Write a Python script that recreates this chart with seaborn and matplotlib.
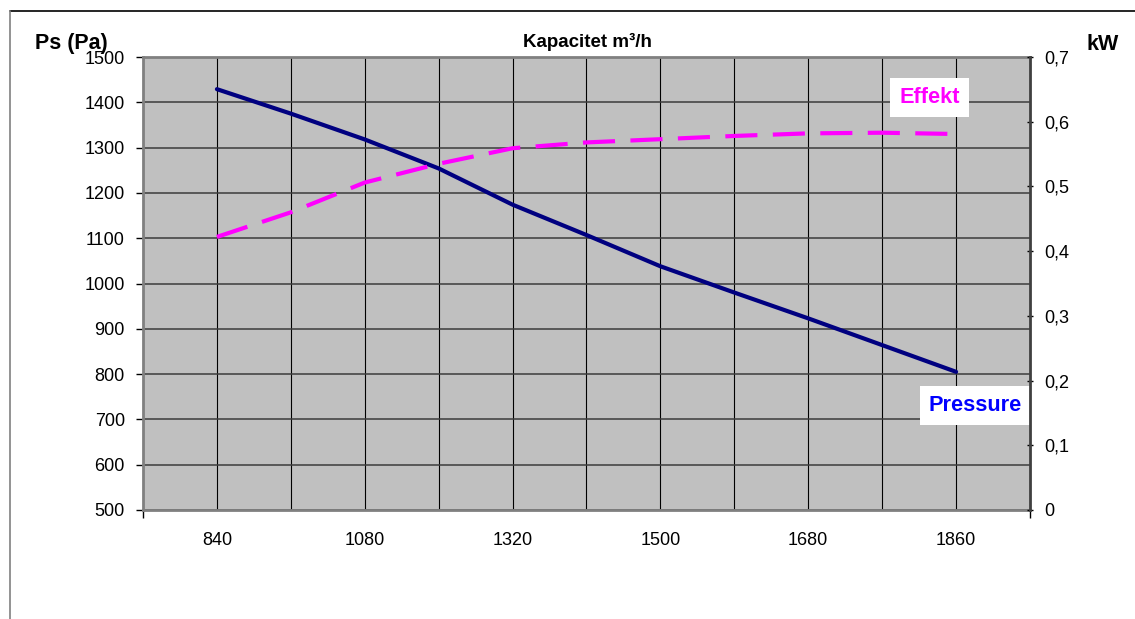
import matplotlib
matplotlib.use("Agg")
import matplotlib.pyplot as plt
from matplotlib.lines import Line2D
from matplotlib.ticker import FixedLocator
import numpy as np
import pandas as pd
import seaborn as sns

# capacity categories (m3/h), only every other one is labelled
capacity = [840, 960, 1080, 1200, 1320, 1410, 1500, 1590, 1680, 1770, 1860]
pressure = [1429, 1375, 1318, 1254, 1174, 1107, 1038, 980, 923, 864, 805]
effekt = [0.422, 0.460, 0.506, 0.535, 0.559, 0.568, 0.573, 0.578, 0.582, 0.583, 0.581]
p_ticks = list(range(500, 1600, 100))
kw_ticks = [0, 0.1, 0.2, 0.3, 0.4, 0.5, 0.6, 0.7]
kw_labels = ["0", "0,1", "0,2", "0,3", "0,4", "0,5", "0,6", "0,7"]

df = pd.DataFrame({"pos": np.arange(len(capacity)), "capacity": capacity,
                   "pressure": pressure, "effekt": effekt})

sns.set_style("white")
plt.rcParams["font.family"] = ["Liberation Sans", "DejaVu Sans"]
plt.rcParams["text.color"] = "black"
plt.rcParams["xtick.color"] = "black"
plt.rcParams["ytick.color"] = "black"

fig = plt.figure(figsize=(11.35, 6.19), dpi=100)
ax = fig.add_axes([143 / 1135, 1 - 510 / 619, 887 / 1135, 453 / 619])
ax.set_facecolor("#c0c0c0")

sns.lineplot(data=df, x="pos", y="pressure", ax=ax, color="#000080",
             linewidth=3.0, sort=False, legend=False)
ax.set_xlim(-1, len(capacity))
ax.set_ylim(500, 1500)
ax.set_xlabel("")
ax.set_ylabel("")

# x ticks: gridline at every category, label every other, marks in between
ax.set_xticks(df["pos"])
ax.set_xticklabels([str(c) if i % 2 == 0 else "" for i, c in enumerate(capacity)])
ax.xaxis.set_minor_locator(FixedLocator(np.arange(-1, len(capacity) + 1, 2)))
ax.tick_params(axis="x", which="major", length=0, pad=16, labelsize=13, colors="black")
ax.tick_params(axis="x", which="minor", bottom=True, length=6, width=1, direction="out", color="black")
ax.set_yticks(p_ticks)
ax.tick_params(axis="y", which="major", left=True, length=5, width=1, direction="out",
               pad=8, labelsize=13, colors="black")
ax.set_axisbelow(True)
ax.xaxis.grid(True, color="#000000", linewidth=0.8)
ax.yaxis.grid(True, color="#3c3c3c", linewidth=1.1)
for side in ["left", "bottom", "top"]:
    ax.spines[side].set_color("#808080")
    ax.spines[side].set_linewidth(2.0)
ax.spines["right"].set_visible(False)

ax2 = ax.twinx()
sns.lineplot(data=df, x="pos", y="effekt", ax=ax2, color="#ff00ff",
             linewidth=3.0, linestyle=(0, (7.7, 3.7)), sort=False, legend=False)
ax2.set_ylim(0, 0.7)
ax2.set_ylabel("")
ax2.set_yticks(kw_ticks)
ax2.set_yticklabels(kw_labels)
ax2.tick_params(axis="y", right=True, length=5, width=1, direction="inout",
                pad=8, labelsize=13, colors="black")
for side in ["left", "bottom", "top"]:
    ax2.spines[side].set_visible(False)
ax2.spines["right"].set_color("#404040")
ax2.spines["right"].set_linewidth(2.0)
ax2.patch.set_visible(False)

# series labels in white boxes
ax2.text(9.64, 0.637, "Effekt", color="#ff00ff", fontsize=15.7, fontweight="bold",
         ha="center", va="center",
         bbox=dict(facecolor="white", edgecolor="none", boxstyle="square,pad=0.42"))
ax.text(10.26, 730, "Pressure", color="#0000ff", fontsize=15.7, fontweight="bold",
        ha="center", va="center",
        bbox=dict(facecolor="white", edgecolor="none", boxstyle="square,pad=0.42"))

# axis titles
fig.text(35 / 1135, 1 - 44 / 619, "Ps (Pa)", fontsize=15.5, fontweight="bold", ha="left", va="center")
fig.text(1087 / 1135, 1 - 44 / 619, "kW", fontsize=15.5, fontweight="bold", ha="left", va="center")
fig.text(587 / 1135, 1 - 42 / 619, "Kapacitet m³/h", fontsize=13.5, fontweight="bold",
         ha="center", va="center")

# chart area frame (partly cut off in the original)
fig.add_artist(Line2D([10 / 1135, 1], [1 - 11 / 619] * 2, color="black", linewidth=1.2,
                      transform=fig.transFigure))
fig.add_artist(Line2D([10 / 1135] * 2, [0, 1 - 11 / 619], color="#808080", linewidth=1.2,
                      transform=fig.transFigure))

fig.savefig("out.png", dpi=100)
